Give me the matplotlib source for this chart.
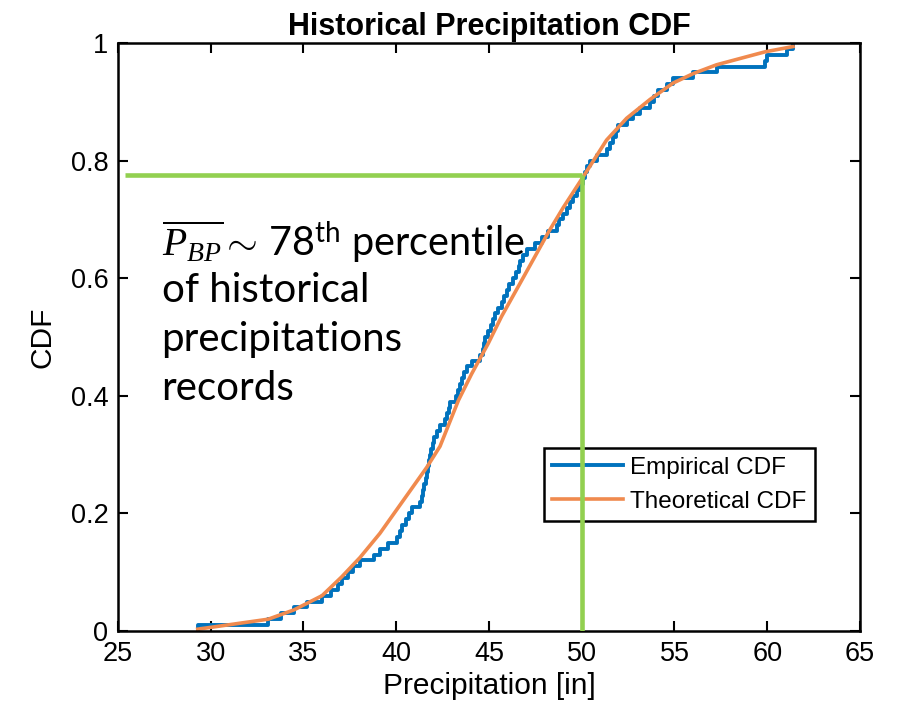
import numpy as np
import matplotlib.pyplot as plt

plt.rcParams["font.family"] = ["Liberation Sans", "DejaVu Sans"]
plt.rcParams["mathtext.fontset"] = "custom"
plt.rcParams["mathtext.rm"] = "Lato"
plt.rcParams["mathtext.it"] = "Liberation Serif:italic"

# sorted annual precipitation records [in]
precip = [
    29.3, 33.1, 33.8, 34.5, 35.2, 36.0, 36.5, 36.85, 37.06, 37.4,
    37.69, 38.05, 38.8, 39.12, 39.57, 40.02, 40.2, 40.29, 40.5, 40.7,
    40.83, 41.3, 41.37, 41.45, 41.52, 41.58, 41.64, 41.7, 41.76, 41.82,
    41.9, 41.98, 42.05, 42.2, 42.36, 42.63, 42.75, 42.85, 42.9, 43.2,
    43.35, 43.45, 43.52, 43.65, 43.8, 44.06, 44.51, 44.69, 44.74, 44.78,
    44.96, 45.1, 45.2, 45.32, 45.5, 45.68, 45.8, 45.95, 46.1, 46.3,
    46.45, 46.6, 46.67, 46.85, 47.03, 47.48, 47.84, 48.2, 48.65, 48.8,
    49.0, 49.2, 49.37, 49.55, 49.73, 49.9, 50.09, 50.2, 50.3, 50.44,
    50.8, 51.34, 51.5, 51.7, 51.85, 51.97, 52.42, 52.78, 53.14, 53.68,
    53.9, 54.13, 54.58, 54.93, 56.01, 57.27, 59.88, 59.97, 61.05, 61.39,
]

# fitted (theoretical) CDF as drawn
theo_x = [29.3, 33.1, 34.5, 36.0, 37.06, 38.05, 39.12, 40.02, 40.83, 41.64,
          42.36, 43.35, 44.06, 44.96, 45.68, 46.67, 47.48, 48.2, 49.0, 50.09,
          51.34, 52.42, 53.68, 54.93, 56.01, 57.27, 59.88, 61.39]
theo_F = [0.003, 0.020, 0.036, 0.060, 0.092, 0.125, 0.166, 0.206, 0.242, 0.278,
          0.314, 0.392, 0.437, 0.489, 0.535, 0.591, 0.637, 0.678, 0.720, 0.773,
          0.835, 0.872, 0.904, 0.932, 0.948, 0.963, 0.985, 0.994]

p_bp = 50.0       # mean precipitation of the BP
p_bp_cdf = 0.775  # its percentile

n = len(precip)
xs = np.repeat(precip, 2)
ys = np.empty(2 * n)
ys[0::2] = np.arange(n) / n
ys[1::2] = np.arange(1, n + 1) / n

fig = plt.figure(figsize=(9.11, 7.17), dpi=100)
ax = fig.add_axes([0.1295, 0.12, 0.8145, 0.82])

ax.plot(xs, ys, color="#0072BD", lw=2.8, label="Empirical CDF")
ax.plot(theo_x, theo_F, color="#F08A4E", lw=2.6, label="Theoretical CDF")

green = "#92D050"
ax.plot([25.4, p_bp], [p_bp_cdf, p_bp_cdf], color=green, lw=3.3, zorder=6,
        solid_capstyle="butt")
ax.plot([p_bp, p_bp], [0, p_bp_cdf], color=green, lw=3.3, zorder=6,
        solid_capstyle="butt")

ax.set_xlim(25, 65)
ax.set_ylim(0, 1)
ax.set_xticks(range(25, 66, 5))
ax.set_yticks([0, 0.2, 0.4, 0.6, 0.8, 1])
ax.set_yticklabels(["0", "0.2", "0.4", "0.6", "0.8", "1"])
ax.tick_params(direction="in", top=True, right=True, length=7, width=1.5,
               labelsize=19.5, pad=7)
for s in ax.spines.values():
    s.set_linewidth(1.8)

ax.set_xlabel("Precipitation [in]", fontsize=21.5, labelpad=4)
ax.set_ylabel("CDF", fontsize=21.5, labelpad=10)
ax.set_title("Historical Precipitation CDF", fontsize=22, fontweight="bold",
             pad=6)

leg = ax.legend(loc="upper right", bbox_to_anchor=(0.939, 0.311),
                borderaxespad=0, fontsize=17.5, handlelength=2.9,
                handletextpad=0.3, labelspacing=0.5, borderpad=0.35,
                fancybox=False, framealpha=1, edgecolor="black")
leg.get_frame().set_linewidth(1.8)

note_font = "Lato"
ax.text(27.35, 0.638,
        r"$\overline{P_{BP}}{\sim}\,$78$^{\rm th}$ percentile",
        fontsize=28.5, family=note_font, va="baseline")
for txt, yy in [("of historical", 0.5595),
                ("precipitations", 0.476),
                ("records", 0.393)]:
    ax.text(27.35, yy, txt, fontsize=29, family=note_font, va="baseline")

fig.savefig("out.png", dpi=100)
